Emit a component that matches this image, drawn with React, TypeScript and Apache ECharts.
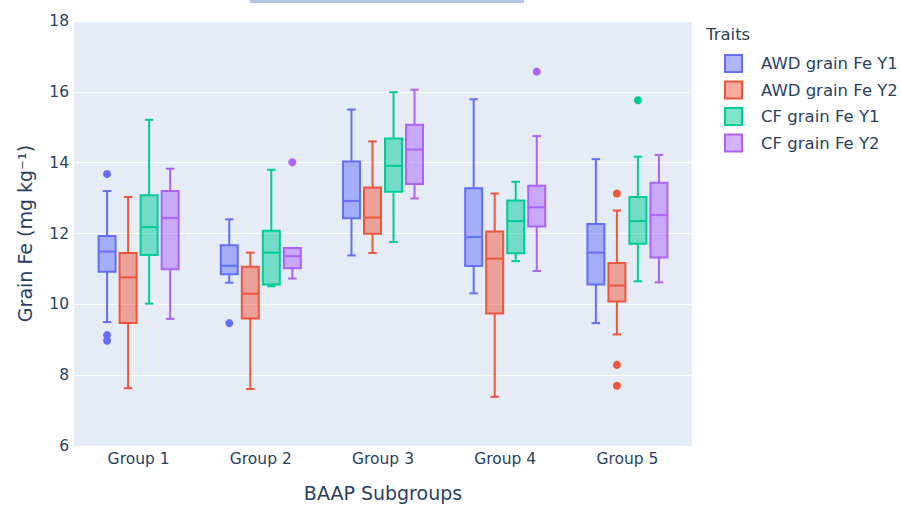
import React, { useEffect, useRef } from "react";
import * as echarts from "echarts";

const categories = ["Group 1", "Group 2", "Group 3", "Group 4", "Group 5"];
const traitNames = ["AWD grain Fe Y1", "AWD grain Fe Y2", "CF grain Fe Y1", "CF grain Fe Y2"];
const traitColors = ["#636efa", "#EF553B", "#00cc96", "#ab63fa"];
const traitFills = ["rgba(99,110,250,0.5)", "rgba(239,85,59,0.5)", "rgba(0,204,150,0.5)", "rgba(171,99,250,0.5)"];

// [min, q1, median, q3, max] per group
const awdY1 = [
  [9.5, 10.92, 11.49, 11.93, 13.2],
  [10.61, 10.85, 11.09, 11.67, 12.4],
  [11.38, 12.43, 12.92, 14.03, 15.5],
  [10.31, 11.08, 11.9, 13.28, 15.79],
  [9.47, 10.56, 11.46, 12.27, 14.1],
];
const awdY2 = [
  [7.63, 9.47, 10.76, 11.45, 13.03],
  [7.61, 9.6, 10.3, 11.06, 11.46],
  [11.45, 11.99, 12.45, 13.3, 14.6],
  [7.39, 9.74, 11.29, 12.06, 13.13],
  [9.15, 10.08, 10.53, 11.17, 12.65],
];
const cfY1 = [
  [10.02, 11.39, 12.18, 13.08, 15.21],
  [10.51, 10.56, 11.46, 12.08, 13.8],
  [11.76, 13.18, 13.91, 14.68, 15.99],
  [11.22, 11.44, 12.35, 12.93, 13.46],
  [10.65, 11.71, 12.35, 13.03, 14.17],
];
const cfY2 = [
  [9.59, 10.99, 12.44, 13.2, 13.83],
  [10.73, 11.02, 11.36, 11.59, 11.59],
  [12.99, 13.4, 14.37, 15.07, 16.06],
  [10.94, 12.2, 12.74, 13.35, 14.75],
  [10.62, 11.32, 12.52, 13.43, 14.22],
];

// [groupIndex, value]
const awdY1Outliers = [[0, 13.68], [0, 9.13], [0, 8.97], [1, 9.47]];
const awdY2Outliers = [[4, 13.13], [4, 8.29], [4, 7.7]];
const cfY1Outliers = [[4, 15.76]];
const cfY2Outliers = [[1, 14.01], [3, 16.57]];

const yTicks = [6, 8, 10, 12, 14, 16, 18];

const boxStats = [awdY1, awdY2, cfY1, cfY2];
const outlierSets = [awdY1Outliers, awdY2Outliers, cfY1Outliers, cfY2Outliers];

const FONT = "'DejaVu Sans', Verdana, sans-serif";
const TXT = "#2a3f5f";

export default function App() {
  const ref = useRef<HTMLDivElement>(null);
  useEffect(() => {
    if (!ref.current) return;
    const chart = echarts.init(ref.current, undefined, { renderer: "svg" });

    const SPACING = 0.172;
    const BOXW = 0.139;

    const series: any[] = [];
    traitNames.forEach((name, j) => {
      const color = traitColors[j];
      const fill = traitFills[j];
      series.push({
        type: "custom",
        name,
        xAxisIndex: 1,
        yAxisIndex: 1,
        coordinateSystem: "cartesian2d",
        data: boxStats[j].map((s, i) => [i, ...s]),
        encode: { x: 0, y: [1, 2, 3, 4, 5] },
        itemStyle: { color },
        renderItem: (params: any, api: any) => {
          const cat = api.value(0);
          const bw = api.size([1, 0])[0];
          const base = api.coord([cat, api.value(3)]);
          const xc = base[0] + (j - 1.5) * bw * SPACING;
          const w = bw * BOXW;
          const cap = w * 0.5;
          const yMin = api.coord([cat, api.value(1)])[1];
          const yQ1 = api.coord([cat, api.value(2)])[1];
          const yMed = base[1];
          const yQ3 = api.coord([cat, api.value(4)])[1];
          const yMax = api.coord([cat, api.value(5)])[1];
          const ls = { stroke: color, lineWidth: 2, fill: null };
          return {
            type: "group",
            children: [
              { type: "line", shape: { x1: xc, y1: yMax, x2: xc, y2: yQ3 }, style: ls },
              { type: "line", shape: { x1: xc, y1: yQ1, x2: xc, y2: yMin }, style: ls },
              { type: "line", shape: { x1: xc - cap / 2, y1: yMax, x2: xc + cap / 2, y2: yMax }, style: ls },
              { type: "line", shape: { x1: xc - cap / 2, y1: yMin, x2: xc + cap / 2, y2: yMin }, style: ls },
              {
                type: "rect",
                shape: { x: xc - w / 2, y: yQ3, width: w, height: yQ1 - yQ3 },
                style: { fill, stroke: color, lineWidth: 2 },
              },
              { type: "line", shape: { x1: xc - w / 2, y1: yMed, x2: xc + w / 2, y2: yMed }, style: ls },
            ],
          };
        },
      });
      series.push({
        type: "custom",
        name,
        xAxisIndex: 1,
        yAxisIndex: 1,
        coordinateSystem: "cartesian2d",
        data: outlierSets[j],
        encode: { x: 0, y: 1 },
        itemStyle: { color },
        renderItem: (params: any, api: any) => {
          const cat = api.value(0);
          const bw = api.size([1, 0])[0];
          const p = api.coord([cat, api.value(1)]);
          const xc = p[0] + (j - 1.5) * bw * SPACING;
          return {
            type: "circle",
            shape: { cx: xc, cy: p[1], r: 4 },
            style: { fill: color },
          };
        },
      });
    });

    chart.setOption({
      animation: false,
      textStyle: { fontFamily: FONT },
      grid: [
        {
          left: 74,
          top: 21,
          width: 618,
          height: 425,
          show: true,
          backgroundColor: "#E5ECF6",
          borderWidth: 0,
          outerBoundsMode: "none",
        },
        {
          left: 77.5,
          top: 21,
          width: 611,
          height: 425,
          show: false,
          outerBoundsMode: "none",
        },
      ],
      xAxis: [
        {
          type: "category",
          gridIndex: 0,
          data: categories,
          show: false,
        },
        {
          type: "category",
          gridIndex: 1,
          data: categories,
          name: "BAAP Subgroups",
          nameLocation: "middle",
          nameGap: 37,
          nameTextStyle: { color: TXT, fontSize: 19, fontFamily: FONT },
          axisLine: { show: false },
          axisTick: { show: false },
          axisLabel: { color: TXT, fontSize: 15.5, margin: 5, fontFamily: FONT },
          splitLine: { show: false },
        },
      ],
      yAxis: [
        {
          type: "value",
          gridIndex: 0,
          min: yTicks[0],
          max: yTicks[yTicks.length - 1],
          interval: 2,
          name: "Grain Fe (mg kg⁻¹)",
          nameLocation: "middle",
          nameGap: 40,
          nameTextStyle: { color: TXT, fontSize: 19, fontFamily: FONT },
          axisLine: { show: false },
          axisTick: { show: false },
          axisLabel: { color: TXT, fontSize: 15.5, margin: 5, fontFamily: FONT },
          splitLine: { show: true, lineStyle: { color: "#ffffff", width: 1 } },
        },
        {
          type: "value",
          gridIndex: 1,
          min: yTicks[0],
          max: yTicks[yTicks.length - 1],
          interval: 2,
          show: false,
          splitLine: { show: false },
        },
      ],
      legend: {
        orient: "vertical",
        left: 719,
        top: 49,
        icon: "rect",
        itemWidth: 17,
        itemHeight: 17,
        itemGap: 7.5,
        textStyle: {
          color: TXT,
          fontSize: 16.5,
          lineHeight: 17,
          fontFamily: FONT,
          padding: [0, 0, 0, 14],
        },
        data: traitNames.map((n, j) => ({
          name: n,
          itemStyle: { color: traitFills[j], borderColor: traitColors[j], borderWidth: 2 },
        })),
      },
      graphic: [
        {
          type: "rect",
          left: 250,
          top: 0,
          shape: { width: 274, height: 3 },
          style: { fill: "#b4c7e7" },
        },
        {
          type: "text",
          left: 706,
          top: 26,
          style: { text: "Traits", fill: TXT, fontSize: 16.5, fontFamily: FONT },
        },
      ],
      series,
    });
    return () => chart.dispose();
  }, []);
  return (
    <div
      ref={ref}
      style={{ position: "fixed", left: 0, top: 0, width: 901, height: 506, background: "#ffffff" }}
    />
  );
}
